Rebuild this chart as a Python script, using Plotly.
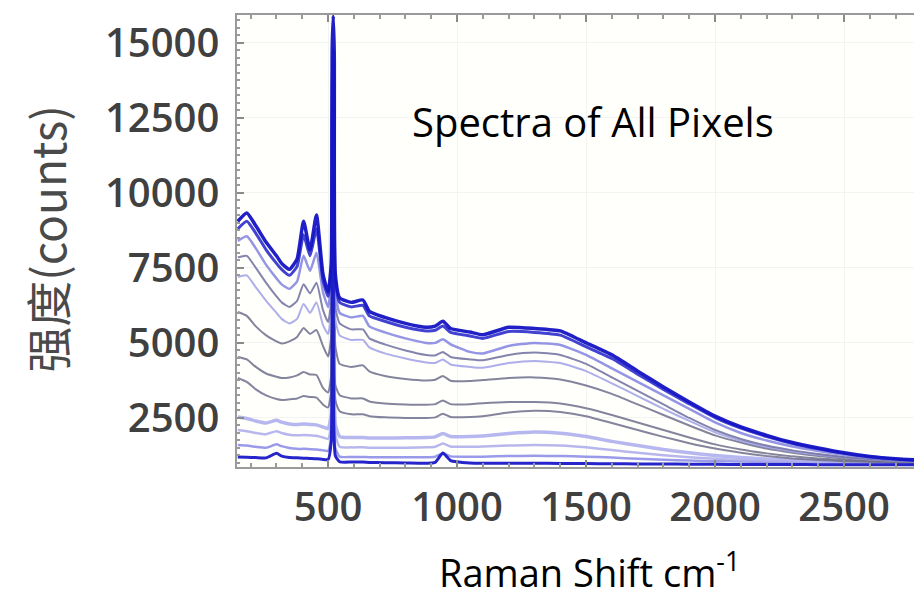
import plotly.graph_objects as go

# Raman shift sample positions (cm-1) shared by every pixel spectrum
raman_shift = [150, 185, 220, 260, 300, 320, 350, 380, 405, 430,
               455, 480, 500, 512, 516, 520, 524, 528, 545, 590,
               635, 660, 720, 800, 880, 915, 945, 975, 1050, 1100,
               1200, 1300, 1400, 1500, 1600, 1700, 1800, 1900, 2000, 2100,
               2200, 2300, 2400, 2500, 2600, 2700, 2780]

# Intensity (counts) of each pixel spectrum, brightest first
spec_a = [9050, 9330, 8900, 8350, 7900, 7650, 7450, 7800, 9050, 8100,
          9260, 7300, 6700, 7600, 14800, 15900, 14600, 7300, 6500, 6350,
          6430, 6050, 5850, 5650, 5520, 5560, 5720, 5480, 5360, 5270,
          5520, 5480, 5400, 5000, 4600, 4060, 3530, 3030, 2560, 2200,
          1920, 1680, 1500, 1340, 1220, 1140, 1100]
spec_b = [8800, 9050, 8650, 8100, 7650, 7450, 7250, 7550, 8600, 7900,
          8800, 7100, 6550, 7400, 13600, 14800, 13400, 7100, 6350, 6200,
          6250, 5900, 5720, 5520, 5400, 5420, 5560, 5350, 5230, 5150,
          5380, 5350, 5260, 4870, 4480, 3960, 3450, 2970, 2510, 2160,
          1880, 1650, 1470, 1320, 1200, 1130, 1090]
spec_c = [8400, 8550, 8150, 7600, 7150, 6950, 6800, 7050, 7900, 7400,
          8000, 6700, 6200, 7000, 12400, 13500, 12200, 6700, 6000, 5850,
          5900, 5550, 5350, 5150, 5000, 5000, 5120, 4950, 4700, 4650,
          4900, 5000, 4930, 4600, 4150, 3700, 3250, 2800, 2350, 2000,
          1750, 1550, 1400, 1270, 1170, 1110, 1080]
spec_d = [7850, 7900, 7500, 7000, 6550, 6350, 6200, 6400, 6950, 6650,
          7000, 6100, 5700, 6400, 11500, 12500, 11300, 6200, 5650, 5450,
          5450, 5150, 4950, 4750, 4600, 4580, 4700, 4530, 4450, 4420,
          4600, 4680, 4600, 4300, 3850, 3400, 2950, 2500, 2100, 1800,
          1580, 1420, 1300, 1200, 1130, 1080, 1060]
spec_e = [7200, 7250, 6850, 6400, 6000, 5800, 5650, 5800, 6300, 6000,
          6350, 5600, 5300, 6000, 10600, 11500, 10400, 5800, 5250, 5100,
          5100, 4850, 4650, 4480, 4350, 4330, 4450, 4280, 4200, 4170,
          4330, 4400, 4330, 4060, 3650, 3230, 2800, 2400, 2020, 1740,
          1530, 1380, 1270, 1180, 1120, 1070, 1050]
spec_f = [6030, 5900, 5550, 5250, 5050, 4980, 5050, 5200, 5500, 5300,
          5430, 4900, 4550, 5200, 9700, 10500, 9500, 4900, 4300, 4200,
          4250, 4050, 3900, 3800, 3750, 3770, 3900, 3740, 3730, 3760,
          3830, 3850, 3780, 3580, 3300, 2950, 2600, 2250, 1920, 1680,
          1480, 1340, 1230, 1150, 1090, 1050, 1030]
spec_g = [4530, 4450, 4200, 3980, 3870, 3830, 3850, 3920, 4030, 3950,
          3930, 3500, 3350, 3900, 8300, 9000, 8100, 3600, 3260, 3150,
          3150, 3050, 2980, 2950, 2940, 2960, 3080, 2960, 2960, 2990,
          3030, 3030, 2980, 2820, 2600, 2350, 2100, 1850, 1620, 1450,
          1320, 1220, 1150, 1100, 1060, 1040, 1020]
spec_h = [3830, 3700, 3450, 3250, 3130, 3100, 3120, 3150, 3230, 3200,
          3180, 2950, 2850, 3400, 7400, 8000, 7200, 3100, 2720, 2620,
          2620, 2560, 2520, 2500, 2500, 2520, 2640, 2530, 2530, 2560,
          2680, 2740, 2700, 2560, 2330, 2100, 1870, 1660, 1480, 1340,
          1230, 1150, 1100, 1060, 1040, 1020, 1010]
spec_i = [2530, 2480, 2400, 2330, 2420, 2360, 2300, 2280, 2300, 2280,
          2270, 2200, 2150, 2600, 5500, 6000, 5400, 2300, 1880, 1850,
          1850, 1830, 1830, 1840, 1850, 1870, 1980, 1880, 1880, 1900,
          1980, 2030, 1990, 1880, 1720, 1580, 1450, 1340, 1250, 1180,
          1130, 1090, 1060, 1040, 1030, 1020, 1010]
spec_j = [2100, 2060, 2000, 1960, 2060, 2000, 1940, 1920, 1930, 1920,
          1910, 1850, 1800, 2300, 4600, 5000, 4500, 1950, 1540, 1520,
          1520, 1510, 1510, 1510, 1520, 1540, 1650, 1550, 1540, 1550,
          1580, 1600, 1580, 1520, 1430, 1340, 1260, 1190, 1140, 1100,
          1070, 1050, 1040, 1030, 1020, 1015, 1010]
spec_k = [1600, 1580, 1540, 1510, 1620, 1560, 1500, 1470, 1470, 1460,
          1450, 1420, 1400, 1800, 3900, 4200, 3800, 1500, 1210, 1200,
          1200, 1190, 1190, 1190, 1190, 1210, 1320, 1220, 1210, 1210,
          1230, 1240, 1230, 1210, 1180, 1140, 1110, 1080, 1060, 1050,
          1040, 1030, 1020, 1015, 1010, 1005, 1000]
spec_l = [1200, 1190, 1180, 1170, 1320, 1230, 1180, 1170, 1160, 1150,
          1140, 1120, 1110, 1700, 12500, 13800, 12300, 1250, 1040, 1030,
          1030, 1020, 1010, 1000, 990, 1020, 1330, 1080, 1000, 990,
          990, 990, 985, 980, 975, 970, 965, 960, 955, 950,
          950, 950, 945, 945, 945, 945, 945]

# Axis tick values and labels
x_ticks = [500, 1000, 1500, 2000, 2500]
y_ticks = [2500, 5000, 7500, 10000, 12500, 15000]
y_tick_labels = ["2500", "5000", "7500", "10000", "12500", "15000"]

# (series, colour, width) drawn from the faint background up to the bright top
layers = [
    (spec_k, "rgba(120,120,230,0.75)", 2.5),
    (spec_j, "rgba(170,170,235,0.85)", 2.5),
    (spec_i, "rgba(175,175,238,0.9)", 3.5),
    (spec_h, "rgba(110,110,140,0.85)", 2),
    (spec_g, "rgba(110,110,140,0.85)", 2),
    (spec_f, "rgba(110,110,140,0.85)", 2),
    (spec_e, "rgba(160,160,230,0.85)", 2),
    (spec_d, "rgba(110,110,160,0.85)", 2),
    (spec_c, "rgba(130,130,225,0.85)", 2.5),
    (spec_l, "rgba(25,25,200,0.95)", 3),
    (spec_b, "rgba(45,45,205,0.9)", 3),
    (spec_a, "rgba(20,20,195,0.95)", 3.5),
]

fig = go.Figure()
for values, colour, width in layers:
    fig.add_trace(go.Scatter(
        x=raman_shift, y=values, mode="lines",
        line=dict(color=colour, width=width, shape="spline", smoothing=0.5),
        hoverinfo="skip", showlegend=False,
    ))

tick_font = dict(family="Open Sans, sans-serif", size=40, color="#404040",
                 weight=600)
axis_common = dict(
    showline=True, linecolor="#9a9a9a", linewidth=1.5,
    ticks="inside", ticklen=7, tickcolor="#8a8a8a", tickwidth=1.5,
    showgrid=True, gridcolor="#f3f3f3", gridwidth=1,
    zeroline=False, tickfont=tick_font,
)

fig.update_xaxes(
    range=[147, 2771], tickvals=x_ticks, mirror="allticks",
    minor=dict(dtick=100, tick0=0, ticks="inside", ticklen=4,
               tickcolor="#9a9a9a", showgrid=False),
    ticklabelstandoff=4, **axis_common,
)
fig.update_yaxes(
    range=[866, 15923], tickvals=y_ticks, ticktext=y_tick_labels, mirror=False,
    minor=dict(dtick=250, tick0=0, ticks="inside", ticklen=3,
               tickcolor="#9a9a9a", showgrid=False),
    ticklabelstandoff=8, **axis_common,
)

fig.add_annotation(
    text="Spectra of All Pixels", xref="paper", yref="paper",
    x=0.526, y=0.765, showarrow=False, xanchor="center", yanchor="middle",
    font=dict(family="Open Sans, sans-serif", size=40, color="#000000"),
)
fig.add_annotation(
    text="Raman Shift cm<sup>-1</sup>", xref="paper", yref="paper",
    x=0.52, y=-0.228, showarrow=False, xanchor="center", yanchor="middle",
    font=dict(family="Open Sans, sans-serif", size=38, color="#000000"),
)
fig.add_annotation(
    text="强度(counts)", xref="paper", yref="paper",
    x=-0.282, y=0.505, showarrow=False, textangle=-90,
    xanchor="center", yanchor="middle",
    font=dict(family="Noto Sans CJK SC, sans-serif", size=46, color="#4a4a4a"),
)

fig.update_layout(
    width=914, height=601,
    margin=dict(l=237, r=0, t=15, b=134),
    paper_bgcolor="#ffffff", plot_bgcolor="#fffffc",
)

fig.write_html("out.html")
